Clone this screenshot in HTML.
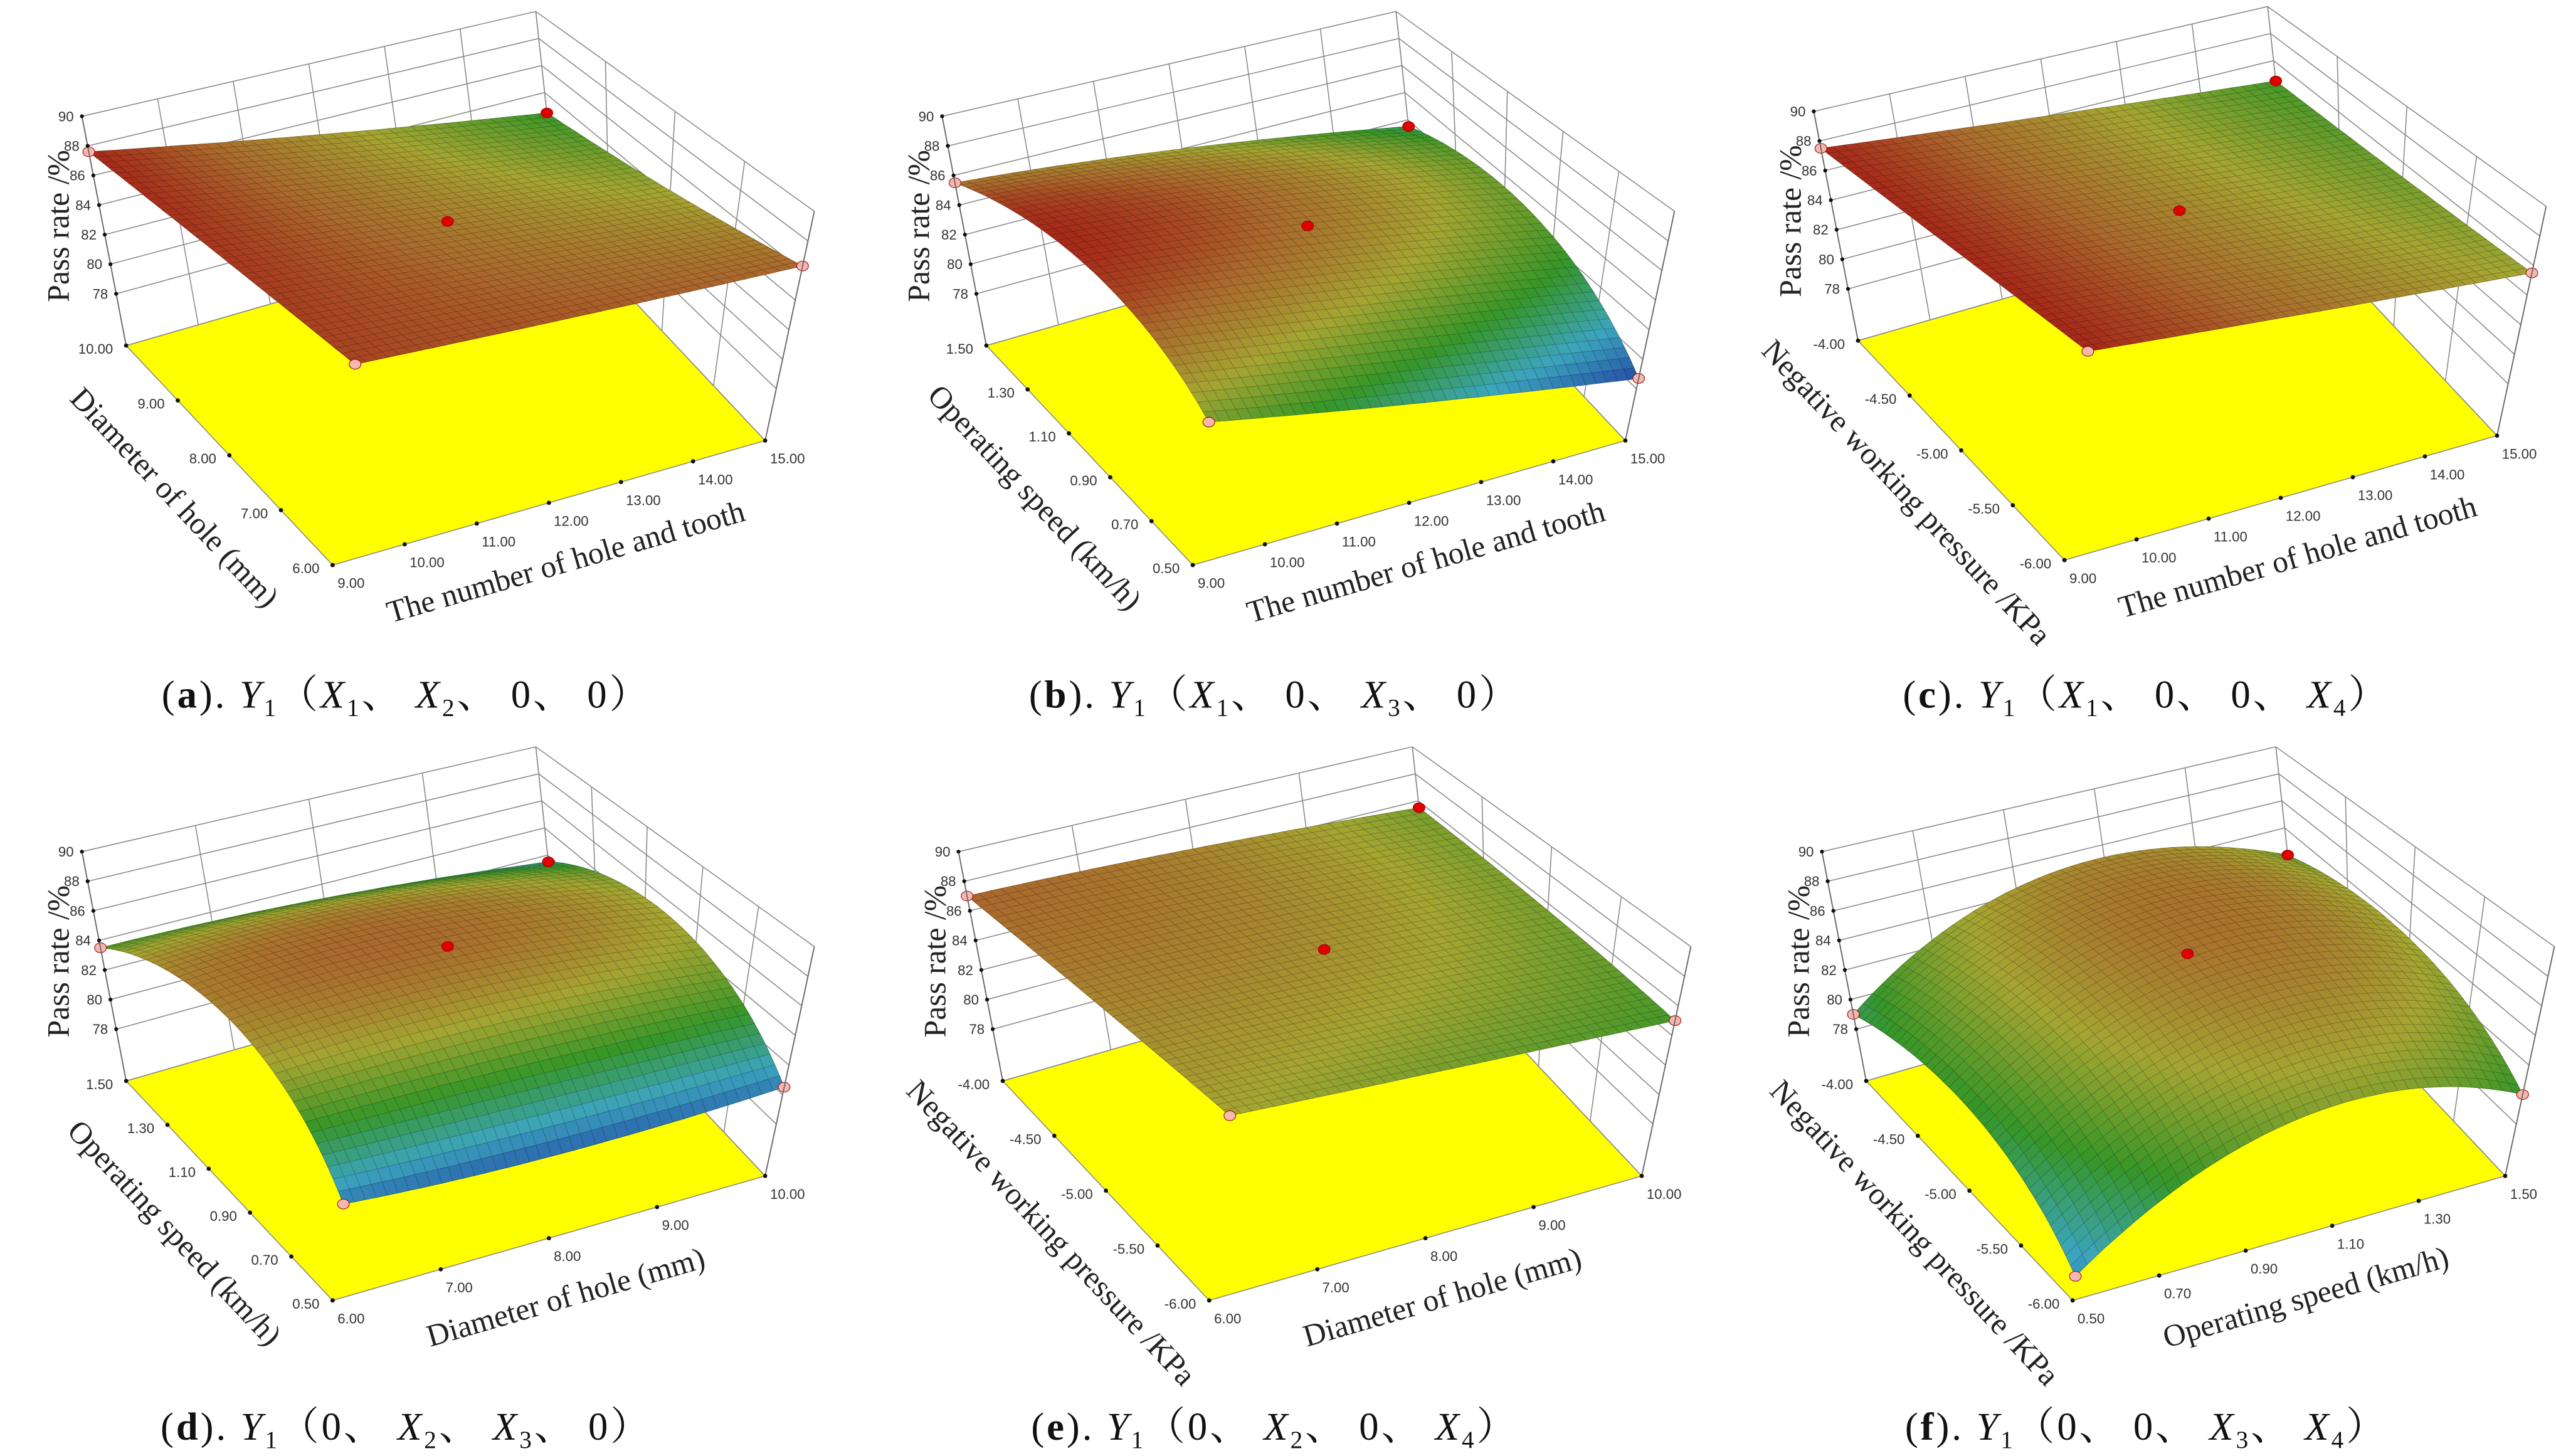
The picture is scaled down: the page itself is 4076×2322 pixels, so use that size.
<!DOCTYPE html>
<html><head><meta charset="utf-8"><style>
html,body{margin:0;padding:0;background:#fff;}
svg{display:block;}
.tk{font-family:"Liberation Sans",sans-serif;font-size:8.5px;fill:#333;}
.at{font-family:"Liberation Serif",serif;font-size:19px;fill:#222;}
.cap{font-family:"Liberation Serif","Noto Serif CJK SC",serif;font-size:24px;fill:#111;letter-spacing:1.5px;}
</style></head><body>
<svg id="fig" xmlns="http://www.w3.org/2000/svg" width="4076" height="2322" viewBox="0 0 1560 889" preserveAspectRatio="none"></svg>
<script>
// ---- data: 3x3 response values [y-low,y-mid,y-high][x-low,x-mid,x-high] ----
const valsA = [[87.0,86.6,86.3],[87.3,85.8,84.4],[87.6,85.0,82.5]];
const valsB = [[83.4,81.0,78.7],[87.0,85.5,83.0],[85.5,84.0,81.5]];
const valsC = [[87.5,86.5,85.5],[87.5,86.2,85.0],[87.5,86.0,84.5]];
const valsD = [[80.5,80.0,80.5],[86.0,86.5,85.0],[83.5,83.0,81.5]];
const valsE = [[86.0,85.5,85.0],[86.5,86.3,85.5],[87.0,86.5,85.5]];
const valsF = [[76.0,82.5,80.0],[80.0,86.0,83.5],[79.0,85.0,82.0]];
const zTicks = ['78','80','82','84','86','88','90'];
const ticksHoleTooth = ['9.00','10.00','11.00','12.00','13.00','14.00','15.00'];
const ticksDiameter = ['6.00','7.00','8.00','9.00','10.00'];
const ticksSpeed = ['0.50','0.70','0.90','1.10','1.30','1.50'];
const ticksPressure = ['-6.00','-5.50','-5.00','-4.50','-4.00'];

const NS='http://www.w3.org/2000/svg';
const svg=document.getElementById('fig');
function mk(tag,attrs,parent){const e=document.createElementNS(NS,tag);for(const k in attrs)e.setAttribute(k,attrs[k]);(parent||svg).appendChild(e);return e;}

const G={F:[203,345],R:[467,269],L:[77,211],B:[341,135],TF:[220,193],TR:[497,129],TL:[50,71],TB:[327,7]};
const ZMIN=74.5,ZMAX=90;
function bl(P,Q,S,T,u,v){return [P[0]*(1-u)*(1-v)+Q[0]*u*(1-v)+S[0]*(1-u)*v+T[0]*u*v,P[1]*(1-u)*(1-v)+Q[1]*u*(1-v)+S[1]*(1-u)*v+T[1]*u*v];}
function proj(off,u,v,z){const f=bl(G.F,G.R,G.L,G.B,u,v),t=bl(G.TF,G.TR,G.TL,G.TB,u,v);const w=(z-ZMIN)/(ZMAX-ZMIN);return [off[0]+f[0]+w*(t[0]-f[0]),off[1]+f[1]+w*(t[1]-f[1])];}
function lag(t){return [2*(t-.5)*(t-1),-4*t*(t-1),2*t*(t-.5)];}
function surf(vals,u,v){const a=lag(u),b=lag(v);let s=0;for(let i=0;i<3;i++)for(let j=0;j<3;j++)s+=b[i]*a[j]*vals[i][j];return s;}
const stops=[[0,[35,75,165]],[0.2,[60,165,190]],[0.42,[55,150,40]],[0.65,[165,165,50]],[0.85,[170,105,45]],[1,[165,40,25]]];
function cmap(t){t=Math.max(0,Math.min(1,t));for(let i=1;i<stops.length;i++){if(t<=stops[i][0]){const a=stops[i-1],b=stops[i];const k=(t-a[0])/(b[0]-a[0]);return a[1].map((c,j)=>Math.round(c+k*(b[1][j]-c)));}}return stops[stops.length-1][1];}
function fmt(p){return p[0].toFixed(1)+','+p[1].toFixed(1);}

const panels=[
 {id:'a',off:[0,0],vals:valsA,xt:ticksHoleTooth,yt:ticksDiameter,xl:'The number of hole and tooth',yl:'Diameter of hole (mm)',cx:248,cy:432,cl:0.42,ch:1.0},
 {id:'b',off:[525,0],vals:valsB,xt:ticksHoleTooth,yt:ticksSpeed,xl:'The number of hole and tooth',yl:'Operating speed (km/h)',cx:778,cy:432,cl:0.0,ch:1.0},
 {id:'c',off:[1057,-3],vals:valsC,xt:ticksHoleTooth,yt:ticksPressure,xl:'The number of hole and tooth',yl:'Negative working pressure /KPa',cx:1310,cy:432,cl:0.45,ch:1.0},
 {id:'d',off:[0,449],vals:valsD,xt:ticksDiameter,yt:ticksSpeed,xl:'Diameter of hole (mm)',yl:'Operating speed (km/h)',cx:248,cy:879,cl:0.05,ch:0.85},
 {id:'e',off:[535,449],vals:valsE,xt:ticksDiameter,yt:ticksPressure,xl:'Diameter of hole (mm)',yl:'Negative working pressure /KPa',cx:778,cy:879,cl:0.45,ch:0.86},
 {id:'f',off:[1062,449],vals:valsF,xt:ticksSpeed,yt:ticksPressure,xl:'Operating speed (km/h)',yl:'Negative working pressure /KPa',cx:1310,cy:879,cl:0.15,ch:0.82}
];
const capParts={a:[['X','1'],['X','2'],['0'],['0']],b:[['X','1'],['0'],['X','3'],['0']],c:[['X','1'],['0'],['0'],['X','4']],d:[['0'],['X','2'],['X','3'],['0']],e:[['0'],['X','2'],['0'],['X','4']],f:[['0'],['0'],['X','3'],['X','4']]};

panels.forEach(p=>{
  const g=mk('g',{});
  
  
  const o=p.off;
  const fl=mk('polygon',{points:[proj(o,0,0,ZMIN),proj(o,1,0,ZMIN),proj(o,1,1,ZMIN),proj(o,0,1,ZMIN)].map(fmt).join(' '),fill:'#ffff00',stroke:'#888','stroke-width':0.6},g);
  
  
  const wall=mk('g',{stroke:'#8a8a8a','stroke-width':0.6,fill:'none'},g);
  
  
  const zs=[ZMIN].concat(zTicks.map(Number));
  zs.forEach(z=>{mk('polyline',{points:[proj(o,0,1,z),proj(o,1,1,z),proj(o,1,0,z)].map(fmt).join(' ')},wall);});
  p.xt.forEach((_,i)=>{const u=i/(p.xt.length-1);mk('line',{x1:proj(o,u,1,ZMIN)[0],y1:proj(o,u,1,ZMIN)[1],x2:proj(o,u,1,ZMAX)[0],y2:proj(o,u,1,ZMAX)[1]},wall);});
  p.yt.forEach((_,i)=>{const v=i/(p.yt.length-1);mk('line',{x1:proj(o,1,v,ZMIN)[0],y1:proj(o,1,v,ZMIN)[1],x2:proj(o,1,v,ZMAX)[0],y2:proj(o,1,v,ZMAX)[1]},wall);});
  const N=40;let mn=1e9,mx=-1e9;
  for(let i=0;i<=N;i++)for(let j=0;j<=N;j++){const s=surf(p.vals,j/N,i/N);mn=Math.min(mn,s);mx=Math.max(mx,s);}
  const sg=mk('g',{},g);
  
  
  const quads=[];
  for(let i=0;i<N;i++)for(let j=0;j<N;j++)quads.push([i,j]);
  quads.sort((a,b)=>(b[0]+b[1])-(a[0]+a[1]));
  quads.forEach(([i,j])=>{
    const pts=[[j,i],[j+1,i],[j+1,i+1],[j,i+1]].map(([a,b])=>proj(o,a/N,b/N,surf(p.vals,a/N,b/N)));
    const s=surf(p.vals,(j+.5)/N,(i+.5)/N);const t=(s-mn)/(mx-mn);
    const c=cmap(p.cl+t*(p.ch-p.cl));
    const d=c.map(x=>Math.round(x*0.72));
    mk('polygon',{points:pts.map(fmt).join(' '),fill:'rgb('+c.join(',')+')',stroke:'rgb('+d.join(',')+')','stroke-width':0.3},sg);
  });
  [[0.5,0.5],[0,0],[1,0],[0,1],[1,1]].forEach(([u,v],k)=>{
    const s=surf(p.vals,u,v);const pt=proj(o,u,v,s+(k==0?0.3:0));
    const dt=mk('ellipse',{cx:pt[0],cy:pt[1],rx:3.6,ry:3,fill:k==0||k==4?'#e00000':'#f4b8b0',stroke:'#900','stroke-width':0.4},g);
    
    
  });
  const ax=mk('g',{stroke:'#666','stroke-width':0.7,fill:'none'},g);
  mk('line',{x1:proj(o,0,1,ZMIN)[0],y1:proj(o,0,1,ZMIN)[1],x2:proj(o,0,1,ZMAX)[0],y2:proj(o,0,1,ZMAX)[1]},ax);
  mk('line',{x1:proj(o,1,0,ZMIN)[0],y1:proj(o,1,0,ZMIN)[1],x2:proj(o,1,0,ZMAX)[0],y2:proj(o,1,0,ZMAX)[1]},ax);
  zTicks.forEach(t=>{const q=proj(o,0,1,Number(t));
    mk('circle',{cx:q[0],cy:q[1],r:1.2,fill:'#111'},g);
    const tx=mk('text',{x:q[0]-5,y:q[1]+3,'text-anchor':'end',class:'tk'},g);tx.textContent=t;
    
    });
  p.xt.forEach((t,i)=>{const u=i/(p.xt.length-1);const q=proj(o,u,0,ZMIN);
    mk('circle',{cx:q[0],cy:q[1],r:1.3,fill:'#111'},g);
    const tx=mk('text',{x:q[0]+3,y:q[1]+14,'text-anchor':'start',class:'tk'},g);tx.textContent=t;
    
    });
  p.yt.forEach((t,i)=>{const v=i/(p.yt.length-1);const q=proj(o,0,v,ZMIN);
    mk('circle',{cx:q[0],cy:q[1],r:1.3,fill:'#111'},g);
    const tx=mk('text',{x:q[0]-8,y:q[1]+5,'text-anchor':'end',class:'tk'},g);tx.textContent=t;
    
    });
  const F=proj(o,0,0,ZMIN),R=proj(o,1,0,ZMIN),L=proj(o,0,1,ZMIN);
  const axA=Math.atan2(R[1]-F[1],R[0]-F[0])*180/Math.PI;
  const xm=[(F[0]+R[0])/2+12,(F[1]+R[1])/2+42];
  const xt=mk('text',{x:xm[0],y:xm[1],'text-anchor':'middle',class:'at',transform:'rotate('+axA.toFixed(1)+' '+xm[0]+' '+xm[1]+')'},g);
  xt.textContent=p.xl;
  
  
  const ayA=Math.atan2(F[1]-L[1],F[0]-L[0])*180/Math.PI;
  const ym=[(F[0]+L[0])/2-38,(F[1]+L[1])/2+30];
  const yt=mk('text',{x:ym[0],y:ym[1],'text-anchor':'middle',class:'at',transform:'rotate('+ayA.toFixed(1)+' '+ym[0]+' '+ym[1]+')'},g);
  yt.textContent=p.yl;
  
  
  const zp=[o[0]+42,o[1]+138];
  const zt=mk('text',{x:zp[0],y:zp[1],'text-anchor':'middle',class:'at',transform:'rotate(-90 '+zp[0]+' '+zp[1]+')'},g);
  zt.textContent='Pass rate /%';
  
  
  const cap=mk('text',{x:p.cx,y:p.cy,'text-anchor':'middle',class:'cap'},svg);
  
  
  let html='(<tspan font-weight="bold">'+p.id+'</tspan>). <tspan font-style="italic">Y</tspan><tspan font-size="15" dy="5">1</tspan><tspan dy="-5">（</tspan>';
  capParts[p.id].forEach((a,k)=>{
    if(a.length==2)html+='<tspan font-style="italic">'+a[0]+'</tspan><tspan font-size="15" dy="5">'+a[1]+'</tspan><tspan dy="-5">'+(k<3?'、 ':'）')+'</tspan>';
    else html+='<tspan>'+a[0]+(k<3?'、 ':'）')+'</tspan>';
  });
  cap.innerHTML=html;
});
</script>
</body></html>
